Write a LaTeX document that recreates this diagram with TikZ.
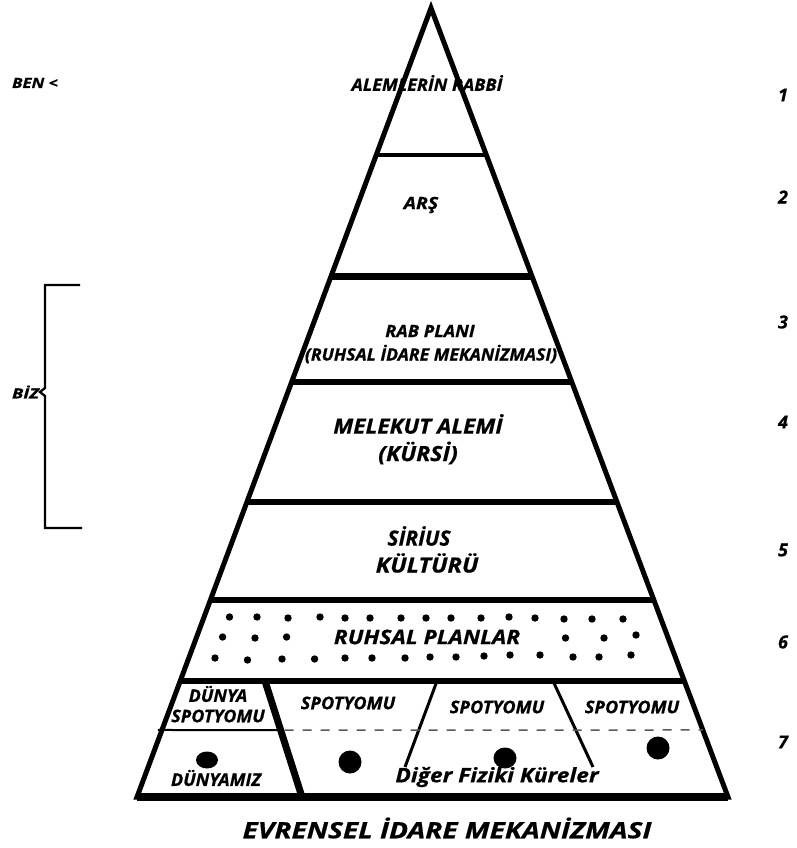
\documentclass[tikz,border=0pt]{standalone}
\usepackage{graphicx}
\usepackage{fontspec}
\setmainfont[BoldItalicFeatures={FakeBold=0.6}]{Open Sans}
\usetikzlibrary{calc}
\newcommand{\fsz}[1]{\fontsize{#1}{#1}\selectfont}
\newcommand{\sx}[2]{\scalebox{#1}[1]{#2}}
\tikzset{
  lbl/.style={font=\bfseries\itshape, inner sep=0pt, align=center, text=black},
  edgeline/.style={line width=5pt, line join=miter},
  thinsep/.style={line width=3pt},
  dotmark/.style={fill=black},
}
\begin{document}
\begin{tikzpicture}[x=1pt,y=-1pt]
\useasboundingbox (0,0) rectangle (796,848);
\fill[white] (0,0) rectangle (796,848);
\coordinate (A) at (431,8);
\coordinate (BL) at (137,797);
\coordinate (BR) at (728,797);
% horizontal dividers
\foreach \yy/\ww in {155/4.5, 277/7, 382/6.5, 502/6.5, 600/5.5, 681/6.5} {
  \draw[line width=\ww] ($(A)!{(\yy-8)/789}!(BL)$) -- ($(A)!{(\yy-8)/789}!(BR)$);
}
% outer triangle
\draw[edgeline] (A) -- (BL) -- (BR) -- cycle;
\draw[line width=7.5pt] (BL) -- (BR);
% bottom tier dividers
\coordinate (d1t) at (265,681); \coordinate (d1b) at (302,797);
\coordinate (d2t) at (437,681); \coordinate (d2b) at (405,767);
\coordinate (d3t) at (553,681); \coordinate (d3b) at (593,767);
\draw[line width=7pt] (d1t) -- (d1b);
\draw[thinsep] (d2t) -- (d2b);
\draw[thinsep] (d3t) -- (d3b);
\coordinate (hl) at ($(A)!{722/789}!(BL)+(-4,0)$);
\coordinate (hm) at ($(d1t)!{49/116}!(d1b)$);
\coordinate (hr) at ($(A)!{722/789}!(BR)$);
\draw[line width=2pt] (hl) -- (hm);
\draw[line width=1.5pt, black!65, dash pattern=on 9pt off 9pt] ($(hm)+(4,0)$) -- (hr);
% dots of the spiritual planes
\foreach \xx/\yy in {229.5/617, 257/617, 288/618, 320/617, 345/618, 370/618, 401/618, 426/618, 451/618, 481/618, 509/617, 535/618, 564/619, 592/619, 623/619,
  222.6/637, 255/638, 286.6/637, 565.5/638, 604/638, 636/635,
  215/658, 247.5/660, 282/659, 314.6/659, 345/658, 372/658, 405/658, 430/657, 456/657, 484/656, 510/655, 540/655, 573/657, 599/657, 631/655} {
  \fill[dotmark] (\xx,\yy) circle[radius=3.7pt];
}
% spheres
\fill[dotmark] (207,760) ellipse[x radius=11pt, y radius=8.5pt];
\fill[dotmark] (350,762) circle[radius=11.5pt];
\fill[dotmark] (505,758) ellipse[x radius=11.5pt, y radius=10.5pt];
\fill[dotmark] (658,748) circle[radius=11.5pt];
% bracket
\draw[line width=2.3pt, line join=miter] (80,285) -- (45,285) -- (45,388) -- (40,392) -- (45,396) -- (45,528) -- (82,528);
% labels
\node[lbl, font=\bfseries\itshape\fsz{14}] (ben) at (35,83) {\sx{1.2}{BEN <}};
\node[lbl, font=\bfseries\itshape\fsz{14}] (biz) at (25.5,392) {\sx{1.3}{BİZ}};
\node[lbl, font=\bfseries\itshape\fsz{17}] (l1) at (427,83) {\sx{1.06}{ALEMLERİN RABBİ}};
\node[lbl, font=\bfseries\itshape\fsz{17}] (l2) at (421,205) {\sx{1.15}{ARŞ}};
\node[lbl, font=\bfseries\itshape\fsz{17}] (l3a) at (430,331) {\sx{1.07}{RAB PLANI}};
\node[lbl, font=\bfseries\itshape\fsz{17}] (l3b) at (431,354) {\sx{1.04}{(RUHSAL İDARE MEKANİZMASI)}};
\node[lbl, font=\bfseries\itshape\fsz{21}] (l4a) at (418,424) {\sx{1.08}{MELEKUT ALEMİ}};
\node[lbl, font=\bfseries\itshape\fsz{21}] (l4b) at (418,453) {\sx{1.1}{(KÜRSİ)}};
\node[lbl, font=\bfseries\itshape\fsz{21}] (l5a) at (419,536) {\sx{1.0}{SİRİUS}};
\node[lbl, font=\bfseries\itshape\fsz{21}] (l5b) at (427,563) {\sx{1.13}{KÜLTÜRÜ}};
\node[lbl, font=\bfseries\itshape\fsz{20}] (l6) at (427,637) {\sx{1.14}{RUHSAL PLANLAR}};
\node[lbl, font=\bfseries\itshape\fsz{17.5}] (s0a) at (218,694) {\sx{1.03}{DÜNYA}};
\node[lbl, font=\bfseries\itshape\fsz{17.5}] (s0b) at (218,716) {\sx{1.03}{SPOTYOMU}};
\node[lbl, font=\bfseries\itshape\fsz{17.5}] (s1) at (348,703) {\sx{1.04}{SPOTYOMU}};
\node[lbl, font=\bfseries\itshape\fsz{17.5}] (s2) at (497,707) {\sx{1.04}{SPOTYOMU}};
\node[lbl, font=\bfseries\itshape\fsz{17.5}] (s3) at (632,707) {\sx{1.04}{SPOTYOMU}};
\node[lbl, font=\bfseries\itshape\fsz{17.5}] (dny) at (216,778) {\sx{1.03}{DÜNYAMIZ}};
\node[lbl, font=\bfseries\itshape\fsz{20}] (dfk) at (497,777) {\sx{1.14}{Diğer Fiziki Küreler}};
\foreach \nn/\yy in {1/95, 2/197, 3/322, 4/422, 5/550, 6/642, 7/742} {
  \node[lbl, font=\bfseries\itshape\fsz{18}] (n\nn) at (783,\yy) {\nn};
}
\node[lbl, font=\bfseries\itshape\fsz{22.5}] (title) at (447,828) {\sx{1.25}{EVRENSEL İDARE MEKANİZMASI}};
\end{tikzpicture}
\end{document}
